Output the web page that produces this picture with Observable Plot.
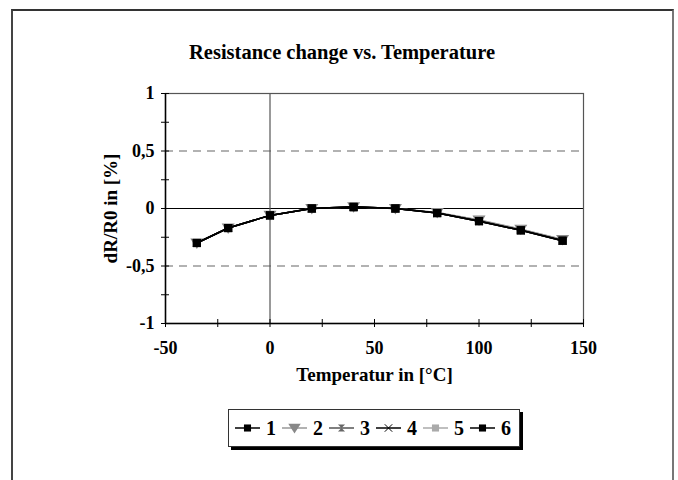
<!DOCTYPE html>
<html>
<head>
<meta charset="utf-8">
<script src="https://cdn.jsdelivr.net/npm/d3@7"></script>
<script src="https://cdn.jsdelivr.net/npm/@observablehq/plot@0.6"></script>
<style>
  html, body { margin: 0; padding: 0; background: #fff; }
  #wrap { position: relative; width: 678px; height: 480px; overflow: hidden; font-family: "Liberation Serif", "Times New Roman", serif; }
  #border { position: absolute; left: 11px; top: 9px; width: 659px; height: 500px; border-top: 2px solid #333; border-left: 2px solid #444; border-right: 2px solid #777; }
  #title { position: absolute; left: 142px; width: 400px; top: 40px; text-align: center; font-weight: bold; font-size: 20.5px; line-height: 24px; color: #000; }
  #chart { position: absolute; left: 0; top: 0; }
  #legend { position: absolute; left: 228px; top: 409px; width: 284px; height: 36px; border: 1px solid #333; box-shadow: 3px 3px 0 #000; background: #fff; display: flex; align-items: center; padding-left: 6px; box-sizing: content-box; }
  .item { display: flex; align-items: center; margin-right: 6px; }
  .item svg { display: block; }
  .item span { font-weight: bold; font-size: 20px; margin-left: 6px; line-height: 20px; }
</style>
</head>
<body>
<div id="wrap">
  <div id="border"></div>
  <div id="title">Resistance change vs. Temperature</div>
  <div id="chart"></div>
  <div id="legend"></div>
</div>
<script>
// ---- data ----
const temps = [-35, -20, 0, 20, 40, 60, 80, 100, 120, 140];
const seriesNames = ["1", "2", "3", "4", "5", "6"];
const s1 = [-0.30, -0.17, -0.06, 0.00, 0.015, 0.00, -0.04, -0.11, -0.19, -0.28];
const s2 = [-0.30, -0.17, -0.06, 0.00, 0.015, 0.00, -0.035, -0.10, -0.18, -0.27];
const s3 = [-0.30, -0.17, -0.06, 0.00, 0.015, 0.00, -0.04, -0.105, -0.185, -0.275];
const s4 = [-0.30, -0.17, -0.06, 0.00, 0.015, 0.00, -0.04, -0.11, -0.19, -0.28];
const s5 = [-0.30, -0.17, -0.06, 0.00, 0.015, 0.00, -0.035, -0.10, -0.18, -0.27];
const s6 = [-0.30, -0.17, -0.06, 0.00, 0.01, 0.00, -0.04, -0.11, -0.19, -0.28];
const xTicksMajor = [-50, 0, 50, 100, 150];
const xTicksAll = [-50, -25, 0, 25, 50, 75, 100, 125, 150];
const yTicksMajor = [-1, -0.5, 0, 0.5, 1];
const yTicksAll = [-1, -0.75, -0.5, -0.25, 0, 0.25, 0.5, 0.75, 1];
const xLabel = "Temperatur in [°C]";
const yLabel = "dR/R0 in [%]";

// ---- styles ----
const values = [s1, s2, s3, s4, s5, s6];
const lineColors = ["#000", "#999", "#555", "#000", "#aaa", "#000"];
const markColors = ["#000", "#888", "#666", "#000", "#aaa", "#000"];

// custom symbols
const triDown = { draw(ctx, size) { const r = Math.sqrt(size / 1.3); ctx.moveTo(-r, -r * 0.7); ctx.lineTo(r, -r * 0.7); ctx.lineTo(0, r * 0.9); ctx.closePath(); } };
const hourglass = { draw(ctx, size) { const r = Math.sqrt(size) / 2; ctx.moveTo(-r, -r); ctx.lineTo(r, -r); ctx.lineTo(-r, r); ctx.lineTo(r, r); ctx.closePath(); } };
const symbols = ["square", triDown, hourglass, "times", "square", "square"];

const rows = seriesNames.flatMap((s, i) => temps.map((t, j) => ({ series: s, idx: i, t, v: values[i][j] })));

const order = [1, 4, 2, 3, 0, 5];
const seriesMarks = order.flatMap(i => {
  const d = rows.filter(r => r.idx === i);
  const isTimes = symbols[i] === "times";
  return [
    Plot.line(d, { x: "t", y: "v", stroke: lineColors[i], strokeWidth: 1.5 }),
    Plot.dot(d, isTimes
      ? { x: "t", y: "v", symbol: symbols[i], r: 3.5, stroke: markColors[i], strokeWidth: 1 }
      : { x: "t", y: "v", symbol: symbols[i], r: i === 0 || i === 5 ? 4.6 : 4.2, fill: markColors[i], stroke: "none" })
  ];
});

const fmt = d => String(d).replace(".", ",");

const chart = Plot.plot({
  width: 678,
  height: 400,
  marginTop: 93,
  marginBottom: 77,
  marginLeft: 165,
  marginRight: 95,
  style: { fontFamily: "Liberation Serif", fontSize: "18px", fontWeight: "bold", color: "#000", background: "transparent", overflow: "visible" },
  x: { domain: [-50, 150] },
  y: { domain: [-1, 1] },
  marks: [
    Plot.ruleY([0.5, -0.5], { stroke: "#666", strokeWidth: 1.2, strokeDasharray: "8,6" }),
    Plot.ruleY([0], { stroke: "#000", strokeWidth: 1 }),
    Plot.ruleX([0], { stroke: "#555", strokeWidth: 1.2 }),
    Plot.frame({ stroke: "#555", strokeWidth: 1.2 }),
    Plot.ruleX([-50], { stroke: "#000", strokeWidth: 1.5 }),
    Plot.ruleY([-1], { stroke: "#000", strokeWidth: 1.5 }),
    Plot.axisX({ ticks: xTicksAll, tickSize: 8, dy: -4, tickFormat: () => "", label: null, stroke: "#000" }),
    Plot.axisX({ ticks: xTicksMajor, tickSize: 0, tickPadding: 18, tickFormat: fmt, label: xLabel, labelAnchor: "center", labelArrow: "none", labelOffset: 57, fontSize: 18 }),
    Plot.axisY({ ticks: yTicksAll, tickSize: 8, dx: 4, tickFormat: () => "", label: null, stroke: "#000" }),
    Plot.axisY({ ticks: yTicksMajor, tickSize: 0, tickPadding: 11, tickFormat: fmt, label: yLabel, labelAnchor: "center", labelArrow: "none", labelOffset: 62, fontSize: 18 }),
    ...seriesMarks
  ]
});
document.getElementById("chart").appendChild(chart);
// larger font for axis titles
d3.select(chart).selectAll("g[aria-label='x-axis label'] text, g[aria-label='y-axis label'] text").style("font-size", "19px");

// ---- legend ----
const legend = d3.select("#legend");
seriesNames.forEach((name, i) => {
  const item = legend.append("div").attr("class", "item");
  const svg = item.append("svg").attr("width", 25).attr("height", 14);
  svg.append("line").attr("x1", 0).attr("x2", 25).attr("y1", 7).attr("y2", 7)
    .attr("stroke", lineColors[i]).attr("stroke-width", 1.5);
  const sym = symbols[i] === "square" ? d3.symbolSquare : symbols[i] === "times" ? d3.symbolTimes : symbols[i];
  const size = Math.PI * 4 * 4;
  const p = svg.append("path").attr("transform", "translate(12.5,7)").attr("d", d3.symbol(sym, symbols[i] === "times" ? Math.PI * 12 : size)());
  if (symbols[i] === "times") p.attr("fill", "none").attr("stroke", markColors[i]).attr("stroke-width", 1);
  else p.attr("fill", markColors[i]);
  item.append("span").text(name);
});
</script>
</body>
</html>
